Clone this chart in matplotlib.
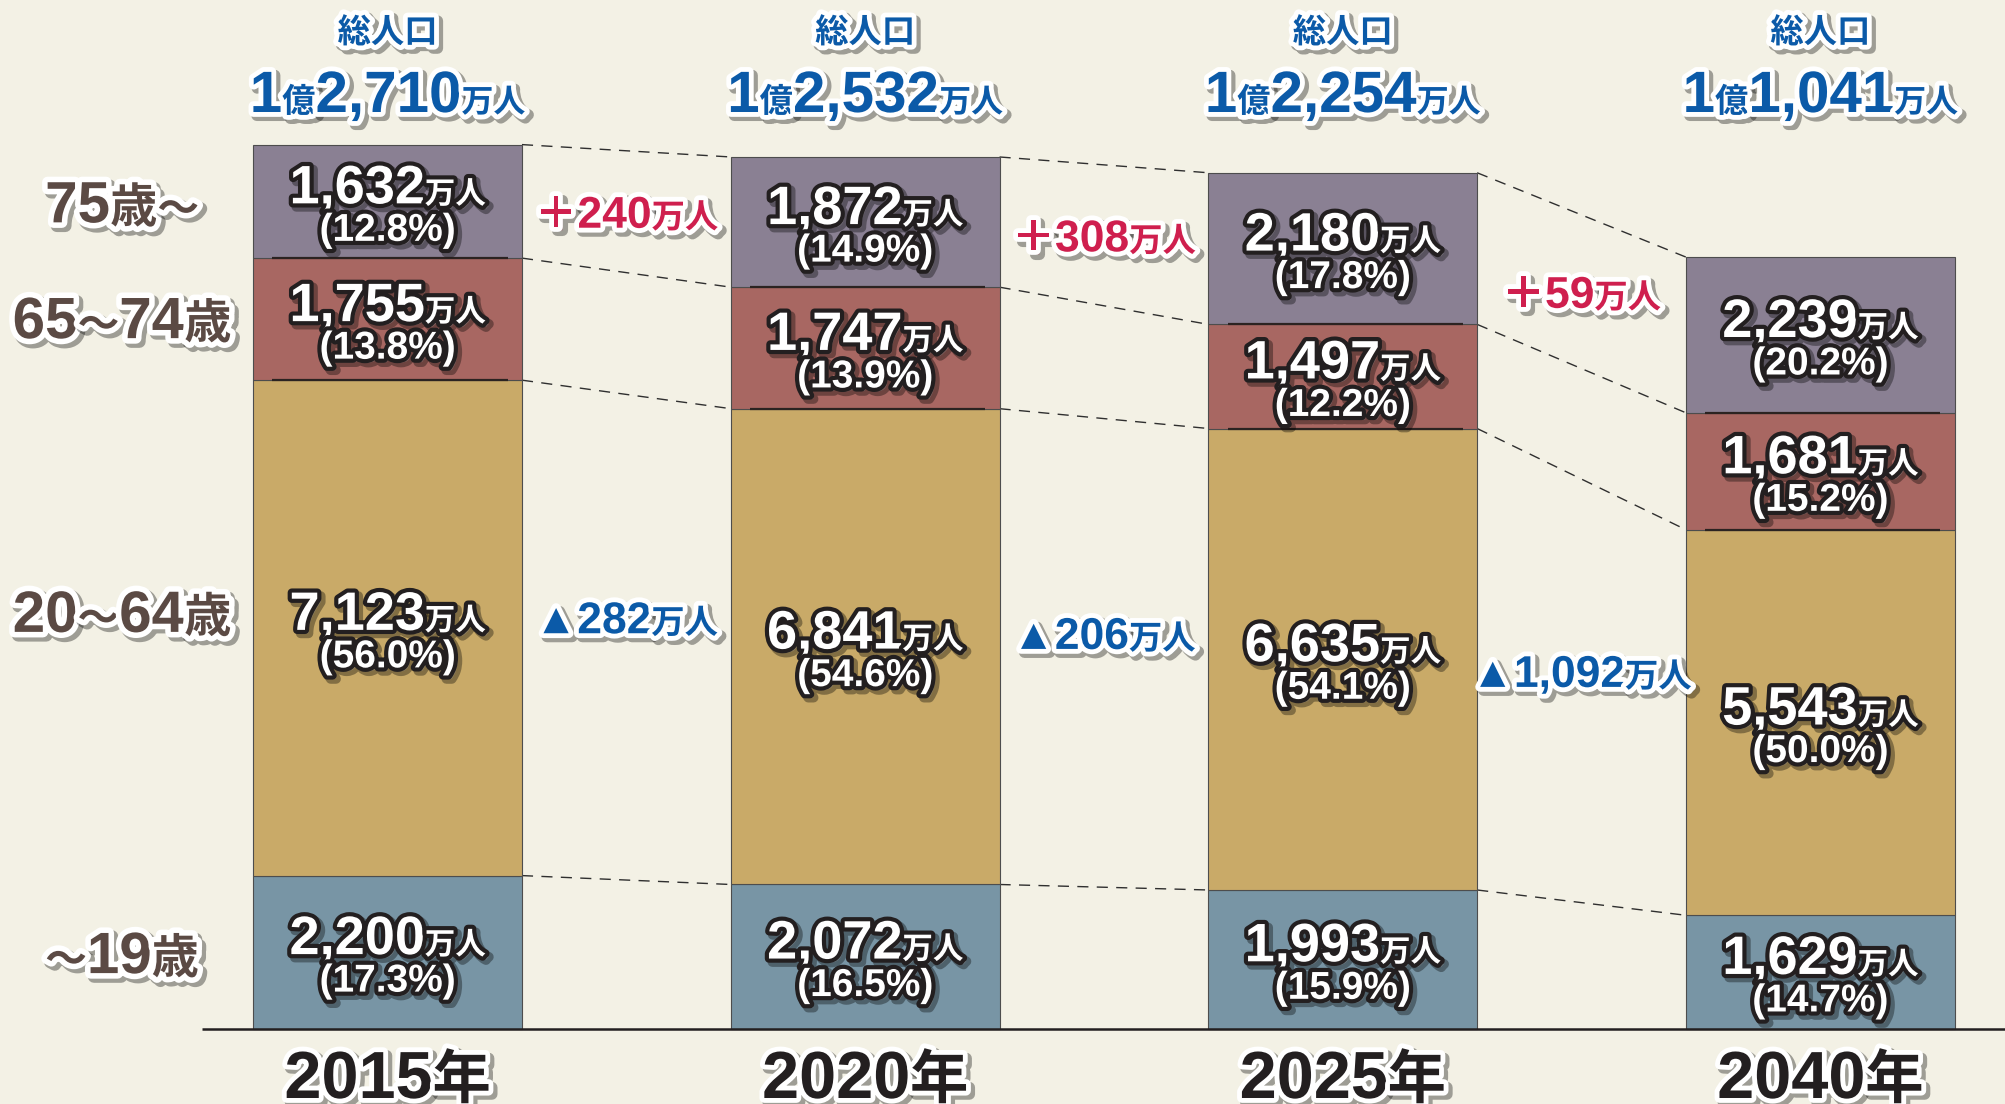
import matplotlib
matplotlib.use('Agg')
import matplotlib.pyplot as plt
import matplotlib.patheffects as pe
import numpy as np

plt.rcParams['font.family'] = ['Liberation Sans', 'Noto Sans CJK JP', 'DejaVu Sans']
plt.rcParams['font.weight'] = 'bold'

# ---------------- data ----------------
years = ['2015', '2020', '2025', '2040']
age_labels = ['〜19歳', '20〜64歳', '65〜74歳', '75歳〜']
under19 = [2200, 2072, 1993, 1629]
age20_64 = [7123, 6841, 6635, 5543]
age65_74 = [1755, 1747, 1497, 1681]
age75 = [1632, 1872, 2180, 2239]
under19_pct = [17.3, 16.5, 15.9, 14.7]
age20_64_pct = [56.0, 54.6, 54.1, 50.0]
age65_74_pct = [13.8, 13.9, 12.2, 15.2]
age75_pct = [12.8, 14.9, 17.8, 20.2]
totals = [12710, 12532, 12254, 11041]

# ---------------- style ----------------
BG = '#f3f1e5'
COLORS = ['#7895a5', '#c9aa68', '#a86762', '#8a8093']
BLUE = '#0b5aa8'
RED = '#cf1f4e'
DARK = '#231f20'
BROWN = '#5b4a44'

W, H = 2006, 1104
fig = plt.figure(figsize=(W / 100, H / 100), dpi=100, facecolor=BG)
ax = fig.add_axes([0, 0, 1, 1])
ax.set_facecolor(BG)
ax.set_xlim(-0.8116, 3.3886)
ax.set_ylim(-1084, 14789)
ax.axis('off')

BASE_PX = 1028.6
SCALE = H / (14789 + 1084)


def ypx(p):
    """pixel row from top -> data y"""
    return (BASE_PX - p) / SCALE


def effects(stroke, lw, shadow=0.35):
    return [pe.Stroke(offset=(2.5, -2.5), linewidth=lw + 1, foreground='black', alpha=shadow),
            pe.Stroke(linewidth=lw, foreground=stroke),
            pe.Normal()]


groups = []


def multipart(x, y, parts, color, stroke, lw, dy=0.0, shadow=0.35):
    items = []
    for s, fs in parts:
        t = ax.annotate(s, xy=(x, y), xycoords='data', xytext=(0, dy),
                        textcoords='offset pixels', ha='left', va='baseline',
                        fontsize=fs, fontweight='bold', color=color,
                        path_effects=effects(stroke, lw, shadow),
                        annotation_clip=False, zorder=6)
        items.append(t)
    groups.append((items, dy))


series = [under19, age20_64, age65_74, age75]
pcts = [under19_pct, age20_64_pct, age65_74_pct, age75_pct]
x = np.arange(len(years))
width = 0.5626

bottoms = np.zeros(len(years))
tops_list = []
centers = []
for k, vals in enumerate(series):
    vals = np.array(vals, dtype=float)
    ax.bar(x, vals, width=width, bottom=bottoms, color=COLORS[k],
           edgecolor='#4d4d4d', linewidth=0.8, zorder=2)
    centers.append(bottoms + vals / 2)
    bottoms = bottoms + vals
    tops_list.append(bottoms.copy())

# inner darker boundary lines
for k in [1, 2]:
    for i in range(len(years)):
        ax.plot([x[i] - width / 2 + 0.04, x[i] + width / 2 - 0.03],
                [tops_list[k][i]] * 2, color='#2b2321', lw=1.6, zorder=3,
                solid_capstyle='butt')

# dashed connectors
for k in range(4):
    for i in range(len(years) - 1):
        ax.plot([x[i] + width / 2, x[i + 1] - width / 2],
                [tops_list[k][i], tops_list[k][i + 1]],
                color='#2f2f2f', lw=1.0, linestyle=(0, (8, 6)), zorder=1)

# baseline
ax.plot([-0.3886, 3.3886], [0, 0], color=DARK, lw=1.8, zorder=4,
        solid_capstyle='butt')

# bar labels
for k, vals in enumerate(series):
    for i, v in enumerate(vals):
        c = centers[k][i]
        multipart(x[i], c, [(f'{v:,}', 39), ('万人', 22)], 'white', DARK, 6, dy=-2)
        multipart(x[i], c, [(f'({pcts[k][i]:.1f}%)', 28)], 'white', DARK, 6, dy=-39.5)

# totals on top
for i, t in enumerate(totals):
    multipart(x[i], ypx(42.5), [('総人口', 24)], BLUE, 'white', 7)
    oku, man = divmod(t, 10000)
    multipart(x[i], ypx(112), [(f'{oku}', 42), ('億', 24), (f'{man:,}', 42), ('万人', 23)],
              BLUE, 'white', 7)

# year labels
for i, yr in enumerate(years):
    multipart(x[i], ypx(1098), [(yr, 48), ('年', 42)], DARK, 'white', 7)

# left age labels
left_parts = [
    [('〜', 30), ('19', 42), ('歳', 34)],
    [('20', 42), ('〜', 30), ('64', 42), ('歳', 34)],
    [('65', 42), ('〜', 30), ('74', 42), ('歳', 34)],
    [('75', 42), ('歳', 34), ('〜', 30)],
]
left_shift = [0, 17, 2, 0]
for k in range(4):
    multipart(-0.556, centers[k][0], left_parts[k], BROWN, 'white', 8,
              dy=-21 + left_shift[k])

# change annotations
for i in range(len(years) - 1):
    d75 = age75[i + 1] - age75[i]
    ymid = (centers[3][i] + centers[3][i + 1]) / 2
    multipart(x[i] + 0.5, ymid, [('＋', 31), (f'{d75:,}', 32), ('万人', 24)],
              RED, 'white', 7, dy=-16)
    d20 = age20_64[i] - age20_64[i + 1]
    ymid = (centers[1][i] + centers[1][i + 1]) / 2
    multipart(x[i] + 0.5, ymid, [('▲', 31), (f'{d20:,}', 32), ('万人', 24)],
              BLUE, 'white', 7, dy=4)

# layout composite texts
renderer = fig.canvas.get_renderer()
for items, dy in groups:
    widths = [t.get_window_extent(renderer).width for t in items]
    cur = -sum(widths) / 2
    for t, w in zip(items, widths):
        t.xyann = (cur, dy)
        cur += w

fig.savefig('out.png', dpi=100, facecolor=BG)
